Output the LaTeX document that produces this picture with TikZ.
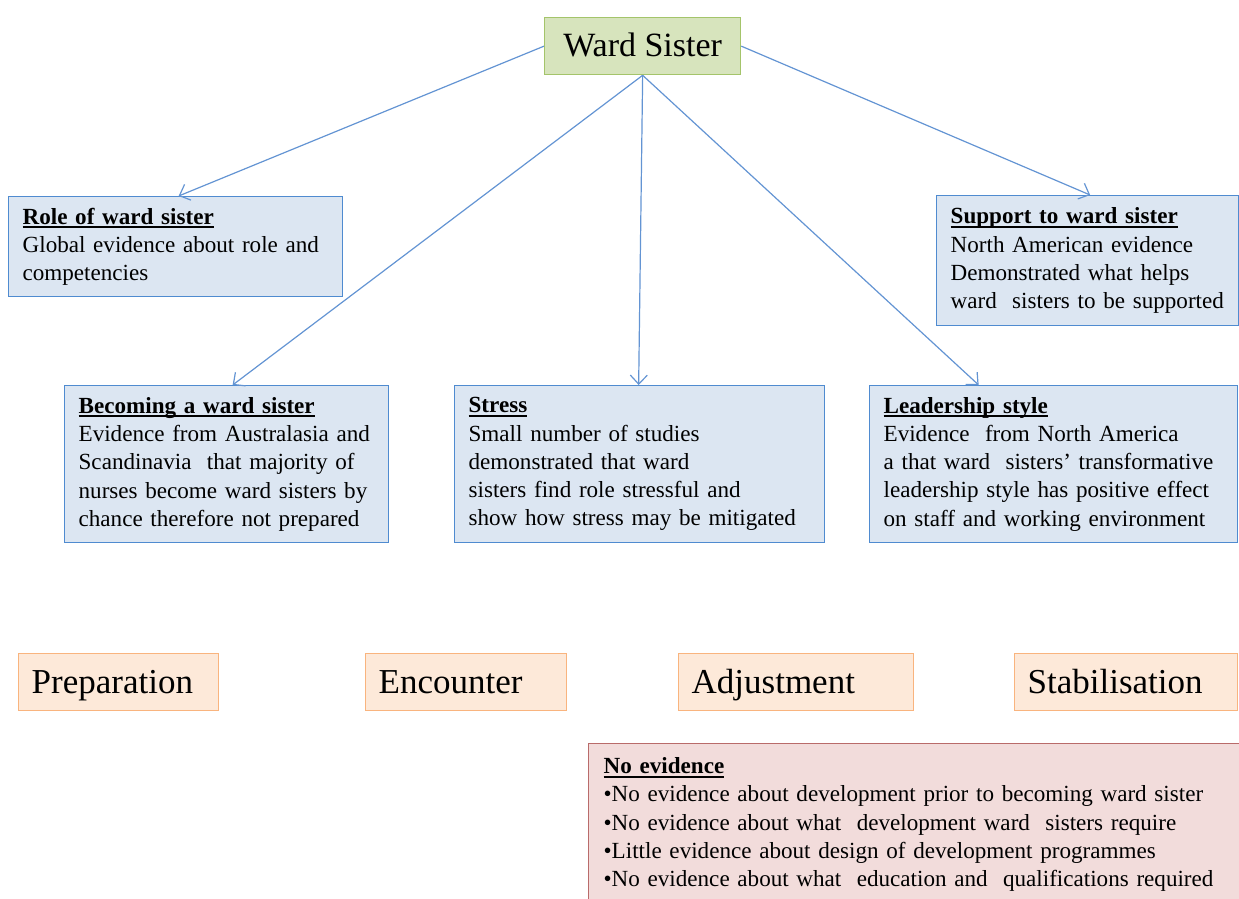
\documentclass[tikz,border=0pt]{standalone}
\usepackage{fontspec}
\setmainfont{Liberation Serif}
\usetikzlibrary{arrows.meta}

\definecolor{bluefill}{HTML}{DCE6F2}
\definecolor{blueline}{HTML}{4F8BD0}
\definecolor{greenfill}{HTML}{D7E4BD}
\definecolor{greenline}{HTML}{A4C46A}
\definecolor{orangefill}{HTML}{FDE9D9}
\definecolor{orangeline}{HTML}{F9B47E}
\definecolor{redfill}{HTML}{F2DCDB}
\definecolor{redline}{HTML}{B96B6A}
\definecolor{arrowblue}{HTML}{6394D3}

% bold heading with a heavy underline
\newcommand\boxhead[1]{\setbox0\hbox{\textbf{#1}}\rlap{\rule[-4pt]{\wd0}{1.8pt}}\box0}
% one unbreakable line of box text
\newcommand\li[1]{\mbox{#1}}

\tikzset{
  body/.style={font=\fontsize{23.1}{28.3}\selectfont},
  evbox/.style={draw=blueline, fill=bluefill, line width=1.3pt, anchor=north west,
    align=left, inner xsep=14pt, inner ysep=0pt, body},
  phasebox/.style={draw=orangeline, fill=orangefill, line width=1.3pt, anchor=north west,
    align=left, inner xsep=13pt, inner ysep=0pt, minimum height=57pt,
    text height=26pt, text depth=4pt, font=\fontsize{35}{40}\selectfont},
  link/.style={draw=arrowblue, line width=1.2pt,
    -{Straight Barb[length=9pt,width=17pt,line width=1.2pt]}},
}

\begin{document}
\begin{tikzpicture}[x=1pt,y=-1pt]
\useasboundingbox (0,0) rectangle (1239,898);
\clip (0,0) rectangle (1239,898);

% top of the hierarchy
\node[draw=greenline, fill=greenfill, line width=1.3pt, anchor=north west,
  minimum width=196pt, minimum height=57pt, inner sep=0pt, text height=25pt, text depth=4pt,
  font=\fontsize{34}{40}\selectfont] (ws) at (544,17) {Ward Sister};

% evidence themes
\node[evbox, minimum width=334pt, text width=306pt, minimum height=100pt] (role) at (8,196)
  {\boxhead{Role of ward sister}\\\li{Global evidence about role and}\\\li{competencies}};
\node[evbox, minimum width=302pt, text width=274pt, minimum height=130pt] (support) at (936,195)
  {\boxhead{Support to ward sister}\\\li{North American evidence}\\\li{Demonstrated what helps}\\\li{ward~~sisters to be supported}};
\node[evbox, minimum width=324pt, text width=296pt, minimum height=157pt] (becoming) at (64,385)
  {\boxhead{Becoming a ward sister}\\\li{Evidence from Australasia and}\\\li{Scandinavia~~that majority of}\\\li{nurses become ward sisters by}\\\li{chance therefore not prepared}};
\node[evbox, minimum width=370pt, text width=342pt, minimum height=157pt] (stress) at (454,385)
  {\boxhead{Stress}\\\li{Small number of studies}\\\li{demonstrated that ward}\\\li{sisters find role stressful and}\\\li{show how stress may be mitigated}};
\node[evbox, minimum width=368pt, text width=340pt, minimum height=157pt] (leader) at (869,385)
  {\boxhead{Leadership style}\\\li{Evidence~~from North America}\\\li{a that ward~~sisters’ transformative}\\\li{leadership style has positive effect}\\\li{on staff and working environment}};

% connectors
\draw[link] (ws.west) -- ([xshift=3pt]role.north);
\draw[link] (ws.east) -- ([xshift=2.5pt]support.north);
\draw[link] (ws.south) -- ([xshift=6pt]becoming.north);
\draw[link] (ws.south) -- ([xshift=-1pt]stress.north);
\draw[link] (ws.south) -- ([xshift=-75pt]leader.north);

% transition phases
\node[phasebox, minimum width=200pt, text width=174pt] (prep) at (18,653) {Preparation};
\node[phasebox, minimum width=201pt, text width=175pt] (enc) at (365,653) {Encounter};
\node[phasebox, minimum width=235pt, text width=209pt] (adj) at (678,653) {Adjustment};
\node[phasebox, minimum width=223pt, text width=197pt] (stab) at (1014,653) {Stabilisation};

% gaps in the evidence
\node[draw=redline, fill=redfill, line width=1.3pt, anchor=north west, align=left,
  inner xsep=15pt, inner ysep=14pt, minimum width=660pt, text width=630pt, body] (none) at (588,743)
  {\boxhead{No evidence}\\
   \li{•No evidence about development prior to becoming ward sister}\\
   \li{•No evidence about what~~development ward~~sisters require}\\
   \li{•Little evidence about design of development programmes}\\
   \li{•No evidence about what~~education and~~qualifications required}};
\end{tikzpicture}
\end{document}
